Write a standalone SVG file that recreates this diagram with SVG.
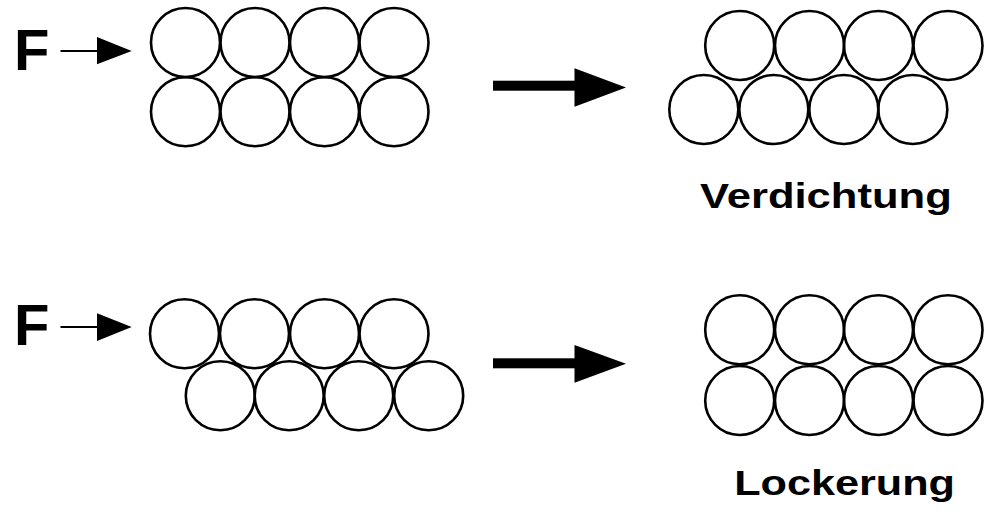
<svg xmlns="http://www.w3.org/2000/svg" width="993" height="512" viewBox="0 0 993 512">
<style>
.c{fill:none;stroke:#000;stroke-width:2.6}
.t{font-family:"Liberation Sans",Arial,sans-serif;font-weight:bold;fill:#000}
.f{font-size:58px}
.l{font-size:35.5px}
.s{stroke:#000;stroke-width:2.2;fill:none}
.h{fill:#000}
</style>
<rect width="993" height="512" fill="#fff"/>
<g id="top-left">
<text class="t f" x="14" y="70">F</text>
<circle class="c" cx="185.5" cy="42.5" r="34.5"/>
<circle class="c" cx="255" cy="42.5" r="34.5"/>
<circle class="c" cx="324.5" cy="42.5" r="34.5"/>
<circle class="c" cx="394" cy="42.5" r="34.5"/>
<circle class="c" cx="185.5" cy="111.7" r="34.5"/>
<circle class="c" cx="255" cy="111.7" r="34.5"/>
<circle class="c" cx="324.5" cy="111.7" r="34.5"/>
<circle class="c" cx="394" cy="111.7" r="34.5"/>
</g>
<g id="top-right">
<circle class="c" cx="739.7" cy="45.5" r="34.5"/>
<circle class="c" cx="809.5" cy="45.5" r="34.5"/>
<circle class="c" cx="878.5" cy="45.5" r="34.5"/>
<circle class="c" cx="948" cy="45.5" r="34.5"/>
<circle class="c" cx="703.8" cy="109.5" r="34.5"/>
<circle class="c" cx="773.8" cy="109.5" r="34.5"/>
<circle class="c" cx="843.8" cy="109.5" r="34.5"/>
<circle class="c" cx="912.8" cy="109.5" r="34.5"/>
<text class="t l" transform="translate(700,208) scale(1.228,1)" x="0" y="0">Verdichtung</text>
</g>
<g id="bottom-left">
<text class="t f" x="14" y="345">F</text>
<circle class="c" cx="184.5" cy="333.8" r="34.5"/>
<circle class="c" cx="254.5" cy="333.8" r="34.5"/>
<circle class="c" cx="324.5" cy="333.8" r="34.5"/>
<circle class="c" cx="394" cy="333.8" r="34.5"/>
<circle class="c" cx="220.3" cy="395.8" r="34.5"/>
<circle class="c" cx="289.2" cy="395.8" r="34.5"/>
<circle class="c" cx="358.7" cy="395.8" r="34.5"/>
<circle class="c" cx="428.7" cy="395.8" r="34.5"/>
</g>
<g id="bottom-right">
<circle class="c" cx="739.7" cy="329.7" r="34.5"/>
<circle class="c" cx="809.5" cy="329.7" r="34.5"/>
<circle class="c" cx="878.5" cy="329.7" r="34.5"/>
<circle class="c" cx="948" cy="329.7" r="34.5"/>
<circle class="c" cx="739.7" cy="400.5" r="34.5"/>
<circle class="c" cx="809.5" cy="400.5" r="34.5"/>
<circle class="c" cx="878.5" cy="400.5" r="34.5"/>
<circle class="c" cx="948" cy="400.5" r="34.5"/>
<text class="t l" transform="translate(734.2,495) scale(1.217,1)" x="0" y="0">Lockerung</text>
</g>
<g id="connectors">
<line class="s" x1="60.5" y1="51" x2="99" y2="51"/>
<polygon class="h" points="97,37 131.7,51 97,64.3"/>
<rect class="h" x="493" y="80.7" width="83" height="10"/>
<polygon class="h" points="574.5,68.3 626,87.5 574.5,106.7"/>
<line class="s" x1="60.5" y1="327" x2="99" y2="327"/>
<polygon class="h" points="97,313.3 131.7,327 97,341"/>
<rect class="h" x="493" y="358.3" width="83" height="10"/>
<polygon class="h" points="574.5,345 626,363.7 574.5,382.7"/>
</g>
</svg>
